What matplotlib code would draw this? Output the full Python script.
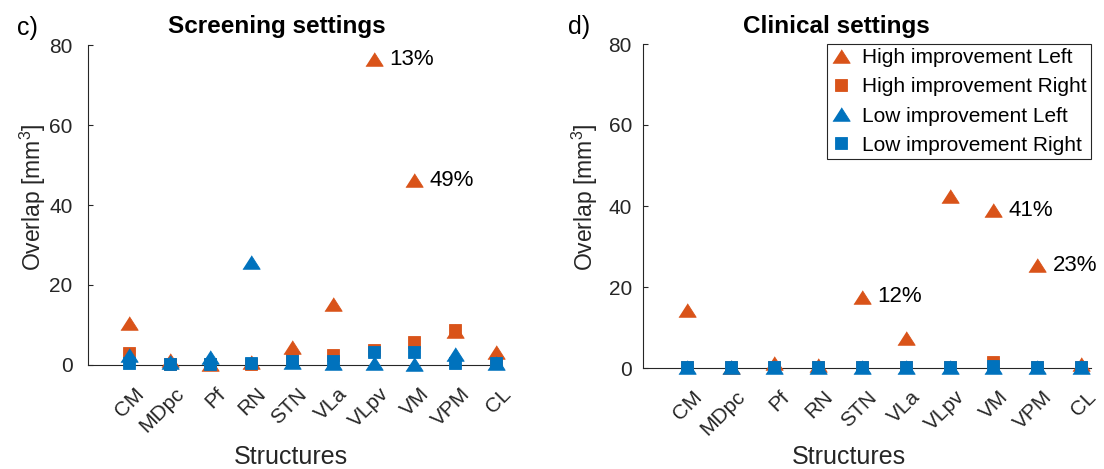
import numpy as np
import matplotlib
matplotlib.use("Agg")
import matplotlib.pyplot as plt
from matplotlib.transforms import ScaledTranslation

plt.rcParams["font.family"] = ["Liberation Sans", "DejaVu Sans"]
plt.rcParams["mathtext.fontset"] = "custom"
plt.rcParams["mathtext.rm"] = "Liberation Sans"

structures = ["CM", "MDpc", "Pf", "RN", "STN", "VLa", "VLpv", "VM", "VPM", "CL"]

# c) screening settings, overlap in mm^3
scr_high_left = [10.4, 1.2, 0.3, 0.8, 4.5, 15.3, 76.5, 46.2, 8.6, 3.3]
scr_high_right = [3.0, 0.3, 0.2, 0.3, 1.5, 2.5, 3.7, 5.7, 8.7, 0.5]
scr_low_left = [2.6, 0.7, 2.0, 25.7, 0.7, 0.4, 0.5, 0.3, 2.8, 0.5]
scr_low_right = [0.6, 0.3, 0.2, 0.6, 1.0, 1.0, 3.2, 3.2, 0.5, 0.5]
scr_notes = {"VLpv": "13%", "VM": "49%"}

# d) clinical settings
cli_high_left = [14.3, 0.2, 1.2, 0.8, 17.6, 7.4, 42.5, 39.0, 25.4, 1.0]
cli_high_right = [0.3, 0.2, 0.3, 0.3, 0.2, 0.2, 0.3, 1.5, 0.2, 0.3]
cli_low_left = [0.2, 0.2, 0.2, 0.2, 0.2, 0.2, 0.2, 0.3, 0.2, 0.2]
cli_low_right = [0.2, 0.2, 0.2, 0.2, 0.2, 0.2, 0.2, 0.5, 0.2, 0.2]
cli_notes = {"STN": "12%", "VM": "41%", "VPM": "23%"}

ORANGE = "#D95319"
BLUE = "#0072BD"
AXC = "#262626"
TRI = [(-1, -0.78), (1, -0.78), (0, 0.78)]


def draw_panel(ax, hl, hr, ll, lr, notes, xmax):
    x = np.arange(1, len(structures) + 1)
    series = [
        (hl, ORANGE, TRI, 12.5, "High improvement Left"),
        (hr, ORANGE, "s", 9, "High improvement Right"),
        (ll, BLUE, TRI, 12.5, "Low improvement Left"),
        (lr, BLUE, "s", 9, "Low improvement Right"),
    ]
    for vals, col, mk, ms, lab in series:
        ax.plot(x, vals, ls="none", marker=mk, ms=ms, color=col, mec=col,
                mew=0.6, label=lab, clip_on=False, zorder=3)

    for name, txt in notes.items():
        i = structures.index(name)
        ax.annotate(txt, (x[i], hl[i]), xytext=(11, 0), textcoords="offset points",
                    ha="left", va="center", fontsize=16, color="black")

    ax.set_xlim(0, xmax)
    ax.set_ylim(0, 80)
    ax.set_yticks([0, 20, 40, 60, 80])
    ax.set_xticks(x)
    ax.set_xticklabels([])
    for s in ["top", "right"]:
        ax.spines[s].set_visible(False)
    for s in ["left", "bottom"]:
        ax.spines[s].set_color(AXC)
        ax.spines[s].set_linewidth(0.8)
    ax.tick_params(direction="in", length=3.5, width=0.8, color=AXC,
                   labelcolor=AXC, labelsize=15)

    # rotated structure names, anchored just right of / below each tick
    off = ScaledTranslation(8.6 / 72, -18.7 / 72, ax.figure.dpi_scale_trans)
    for xi, name in zip(x, structures):
        ax.text(xi, 0, name, transform=ax.get_xaxis_transform() + off,
                rotation=45, ha="right", va="center", rotation_mode="anchor",
                fontsize=15, color=AXC)


W, H = 1104, 469
fig = plt.figure(figsize=(W / 100, H / 100), dpi=100)

ax1 = fig.add_axes([88 / W, 1 - 365 / H, 414 / W, 320 / H])
ax2 = fig.add_axes([643 / W, 1 - 368 / H, 448 / W, 324 / H])

draw_panel(ax1, scr_high_left, scr_high_right, scr_low_left, scr_low_right, scr_notes, 10.15)
draw_panel(ax2, cli_high_left, cli_high_right, cli_low_left, cli_low_right, cli_notes, 10.23)
ax1.tick_params(axis="y", pad=11)
ax2.tick_params(axis="y", pad=8)

leg = ax2.legend(loc="upper right", borderaxespad=0, fontsize=15, fancybox=False,
                 edgecolor=AXC, framealpha=1, handlelength=1.0, handletextpad=0.5,
                 borderpad=0.2, labelspacing=0.49, numpoints=1)
leg.get_frame().set_linewidth(0.8)

# titles, panel letters and axis labels
fig.text(277 / W, 1 - 26 / H, "Screening settings", ha="center", va="center",
         fontsize=17.5, fontweight="bold")
fig.text(836 / W, 1 - 26 / H, "Clinical settings", ha="center", va="center",
         fontsize=17.5, fontweight="bold")
fig.text(17 / W, 1 - 28 / H, "c)", ha="left", va="center", fontsize=18)
fig.text(568 / W, 1 - 27 / H, "d)", ha="left", va="center", fontsize=18)

for xc in (291, 849):
    fig.text(xc / W, 1 - 457 / H, "Structures", ha="center", va="center",
             fontsize=18, color=AXC)
for xc in (33, 585):
    fig.text(xc / W, 1 - 197 / H, "Overlap [mm$^3$]", ha="center", va="center",
             rotation=90, fontsize=16.5, color=AXC)

fig.savefig("out.png", dpi=100)
